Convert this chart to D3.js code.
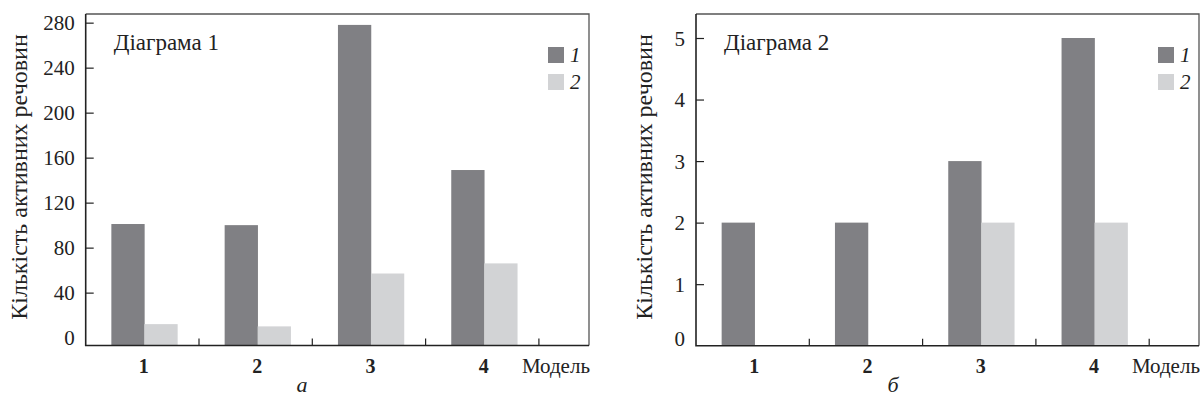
<!DOCTYPE html>
<html>
<head>
<meta charset="utf-8">
<script src="https://cdn.jsdelivr.net/npm/d3@7"></script>
<style>
  body { margin: 0; background: #fff; }
</style>
</head>
<body>
<div id="wrapper"></div>
<script>
// data
const models = ["1", "2", "3", "4"];
const seriesNames = ["1", "2"];

const activeA1 = [101, 100, 278, 149];
const activeA2 = [12, 10, 57, 66];
const ticksA = [0, 40, 80, 120, 160, 200, 240, 280];

const activeB1 = [2, 2, 3, 5];
const activeB2 = [0, 0, 2, 2];
const ticksB = [0, 1, 2, 3, 4, 5];

const yLabel = "Кількість активних речовин";
const xLabel = "Модель";

const colors = ["#808084", "#d2d3d5"];
const FONT = "Liberation Serif";

const svg = d3.select("#wrapper")
    .append("svg")
    .attr("width", 1200)
    .attr("height", 400);

function drawChart(opts) {
    const { left, right, top, bottom } = opts;

    const xScale = d3.scaleBand()
        .domain(models)
        .range([left, left + 4 * 113.3]);

    const yScale = d3.scaleLinear()
        .domain(opts.yDomain)
        .range([bottom, top]);

    const seriesScale = d3.scaleBand()
        .domain(seriesNames)
        .range([0, 66]);

    const g = svg.append("g");

    // bars
    const groups = g.selectAll(".grp")
        .data(models)
        .join("g")
        .attr("transform", d => `translate(${xScale(d) + xScale.bandwidth() / 2 - 31},0)`);

    groups.selectAll("rect")
        .data((d, i) => seriesNames.map((s, j) => ({ s, v: opts.values[j][i] })))
        .join("rect")
        .attr("x", d => seriesScale(d.s))
        .attr("width", seriesScale.bandwidth() + 0.3)
        .attr("y", d => yScale(d.v))
        .attr("height", d => d.v > 0 ? bottom - yScale(d.v) : 0)
        .attr("fill", (d, j) => colors[j]);

    // frame top/right
    g.append("path")
        .attr("d", `M${left},${top}H${right}V${bottom}`)
        .attr("fill", "none")
        .attr("stroke", "#555")
        .attr("stroke-width", 1.3);

    // y axis
    const yAxis = g.append("g")
        .attr("transform", `translate(${left},0)`)
        .call(d3.axisLeft(yScale)
            .tickValues(opts.ticks)
            .tickFormat(d3.format("d"))
            .tickSizeInner(-8)
            .tickSizeOuter(0)
            .tickPadding(11));
    yAxis.attr("font-family", FONT).attr("font-size", 21);
    yAxis.select(".domain").remove();
    yAxis.selectAll(".tick line").attr("stroke", "#222").attr("stroke-width", 1.2)
        .filter(d => d === 0).remove();
    yAxis.selectAll(".tick text")
        .attr("fill", "#222")
        .attr("dy", d => d === 0 && opts.zeroShift ? "-0.02em" : "0.34em");

    // x ticks at band edges
    g.selectAll(".xtick")
        .data(models)
        .join("line")
        .attr("x1", d => xScale(d) + xScale.step())
        .attr("x2", d => xScale(d) + xScale.step())
        .attr("y1", bottom)
        .attr("y2", bottom - 7)
        .attr("stroke", "#222")
        .attr("stroke-width", 1.2);

    // axis lines
    g.append("path")
        .attr("d", `M${left},${top}V${bottom}H${right}`)
        .attr("fill", "none")
        .attr("stroke", "#222")
        .attr("stroke-width", 1.6);

    // category labels
    g.selectAll(".xlab")
        .data(models)
        .join("text")
        .attr("x", d => xScale(d) + xScale.bandwidth() / 2 + 1.5)
        .attr("y", 373)
        .attr("text-anchor", "middle")
        .attr("font-family", FONT)
        .attr("font-size", 20)
        .attr("font-weight", "bold")
        .attr("fill", "#222")
        .text(d => d);

    g.append("text")
        .attr("x", right + 1)
        .attr("y", 373)
        .attr("text-anchor", "end")
        .attr("font-family", FONT)
        .attr("font-size", 21)
        .attr("fill", "#222")
        .text(xLabel);

    // y axis title
    g.append("text")
        .attr("transform", `translate(${opts.yTitleX},177) rotate(-90)`)
        .attr("text-anchor", "middle")
        .attr("font-family", FONT)
        .attr("font-size", 24)
        .attr("fill", "#222")
        .text(yLabel);

    // chart title
    g.append("text")
        .attr("x", left + 28)
        .attr("y", 50)
        .attr("font-family", FONT)
        .attr("font-size", 23)
        .attr("fill", "#222")
        .text(opts.title);

    // legend
    const legend = g.selectAll(".leg")
        .data(seriesNames)
        .join("g")
        .attr("transform", (d, i) => `translate(${opts.legendX},${47 + i * 27})`);
    legend.append("rect")
        .attr("width", 16)
        .attr("height", 16)
        .attr("fill", (d, i) => colors[i]);
    legend.append("text")
        .attr("x", 22)
        .attr("y", 15)
        .attr("font-family", FONT)
        .attr("font-size", 21)
        .attr("font-style", "italic")
        .attr("fill", "#222")
        .text(d => d);

    // caption
    g.append("text")
        .attr("x", opts.captionX)
        .attr("y", 392)
        .attr("text-anchor", "middle")
        .attr("font-family", FONT)
        .attr("font-size", 22)
        .attr("font-style", "italic")
        .attr("fill", "#222")
        .text(opts.caption);
}

drawChart({
    left: 85.7, right: 589, top: 14, bottom: 345.5,
    yDomain: [-7, 287.7],
    ticks: ticksA,
    values: [activeA1, activeA2],
    title: "Діаграма 1",
    legendX: 548,
    yTitleX: 27,
    captionX: 302,
    caption: "а",
    zeroShift: false
});

drawChart({
    left: 696, right: 1199, top: 14, bottom: 345.7,
    yDomain: [0, 5.39],
    ticks: ticksB,
    values: [activeB1, activeB2],
    title: "Діаграма 2",
    legendX: 1158,
    yTitleX: 652,
    captionX: 893,
    caption: "б",
    zeroShift: true
});
</script>
</body>
</html>
